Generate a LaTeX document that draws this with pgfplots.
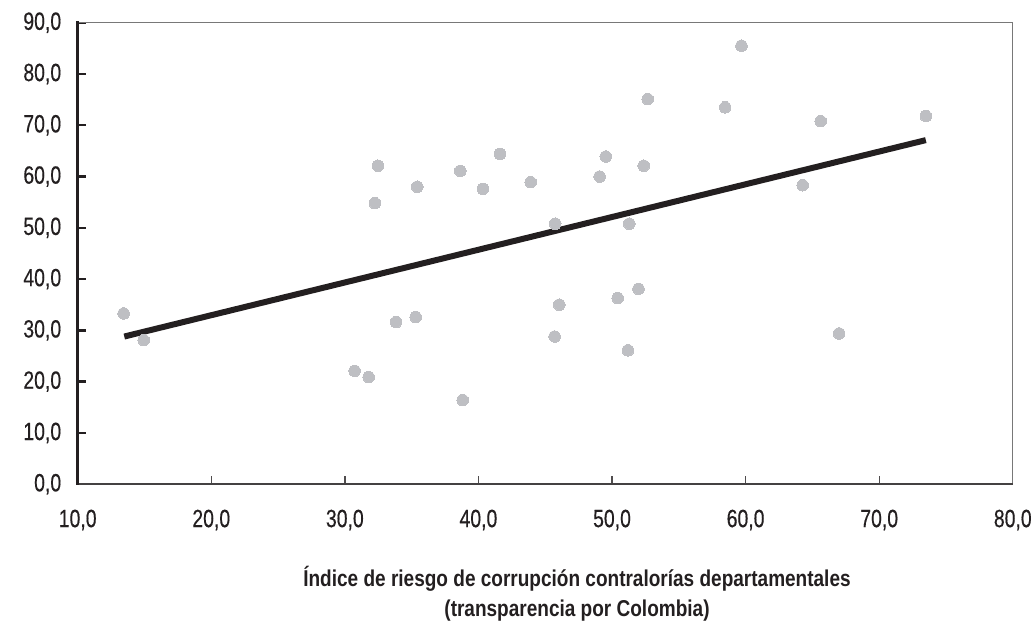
\documentclass[border=0pt]{standalone}
\usepackage{fontspec}
\setmainfont{Liberation Sans}[FakeStretch=0.78, FakeBold=0.4]
\newfontfamily\labfont{Liberation Sans}[FakeStretch=0.83]
\usepackage{pgfplots}
\pgfplotsset{compat=1.18}
\definecolor{txt}{RGB}{35,31,32}
\definecolor{dot}{RGB}{190,191,195}
\definecolor{frame}{RGB}{120,120,120}
\begin{document}
\begin{tikzpicture}
\begin{axis}[
  width=935.3bp, height=461.6bp, scale only axis,
  xmin=10, xmax=80, ymin=0, ymax=90,
  xtick={10,20,...,80}, ytick={0,10,...,90},
  axis line style={draw=none},
  tick align=inside, xtick pos=bottom, ytick pos=left,
  major tick length=8bp,
  xtick style={draw=txt!80, line width=1.3bp},
  ytick style={draw=txt, line width=2.4bp},
  ticklabel style={font=\fontsize{25}{28}\selectfont, text=txt},
  xticklabel style={yshift=-22bp},
  yticklabel style={xshift=-13bp},
  /pgf/number format/.cd, fixed, fixed zerofill, precision=1, use comma, assume math mode=true,
  /pgfplots/.cd,
  clip=false,
]
\addplot[dot, only marks, mark=*, mark size=5.8bp, mark options={fill=dot, draw=dot, line width=0pt}] coordinates {
(13.44,33.3) (14.94,28.1) (30.73,22.1) (31.78,20.9) (33.83,31.6) (35.30,32.6)
(38.82,16.4) (46.05,35.0) (45.70,28.8) (50.42,36.3) (51.98,38.1) (51.19,26.1)
(67.00,29.4) (32.48,62.1) (32.25,54.8) (35.42,58.0) (38.64,61.1) (40.34,57.6)
(41.61,64.4) (43.91,58.9) (45.75,50.8) (49.07,60.0) (49.53,63.9) (52.37,62.1)
(52.67,75.1) (51.29,50.8) (58.47,73.5) (59.69,85.5) (64.27,58.3) (65.62,70.8)
(73.49,71.8)
};
\addplot[txt, line width=6bp, no marks] coordinates {(13.49,28.8) (73.49,67.1)};
\draw[frame, line width=1.2bp] (rel axis cs:0,1) -- (rel axis cs:1,1) -- (rel axis cs:1,0);
\draw[txt!85, line width=1.8bp] (rel axis cs:0,0) -- (rel axis cs:1,0);
\draw[txt, line width=2.6bp, line cap=rect] (rel axis cs:0,1) -- (rel axis cs:0,0);
\node[anchor=base, font=\labfont\fontsize{23}{26}\selectfont\bfseries, text=txt] at (rel axis cs:0.534,0) [yshift=-102.4bp] {Índice de riesgo de corrupción contralorías departamentales};
\node[anchor=base, font=\labfont\fontsize{23}{26}\selectfont\bfseries, text=txt] at (rel axis cs:0.534,0) [yshift=-132.5bp] {(transparencia por Colombia)};
\end{axis}
\path (current axis.south west) ++(-77.7bp,-140.7bp) rectangle ++(1035bp,625bp);
\end{tikzpicture}
\end{document}
